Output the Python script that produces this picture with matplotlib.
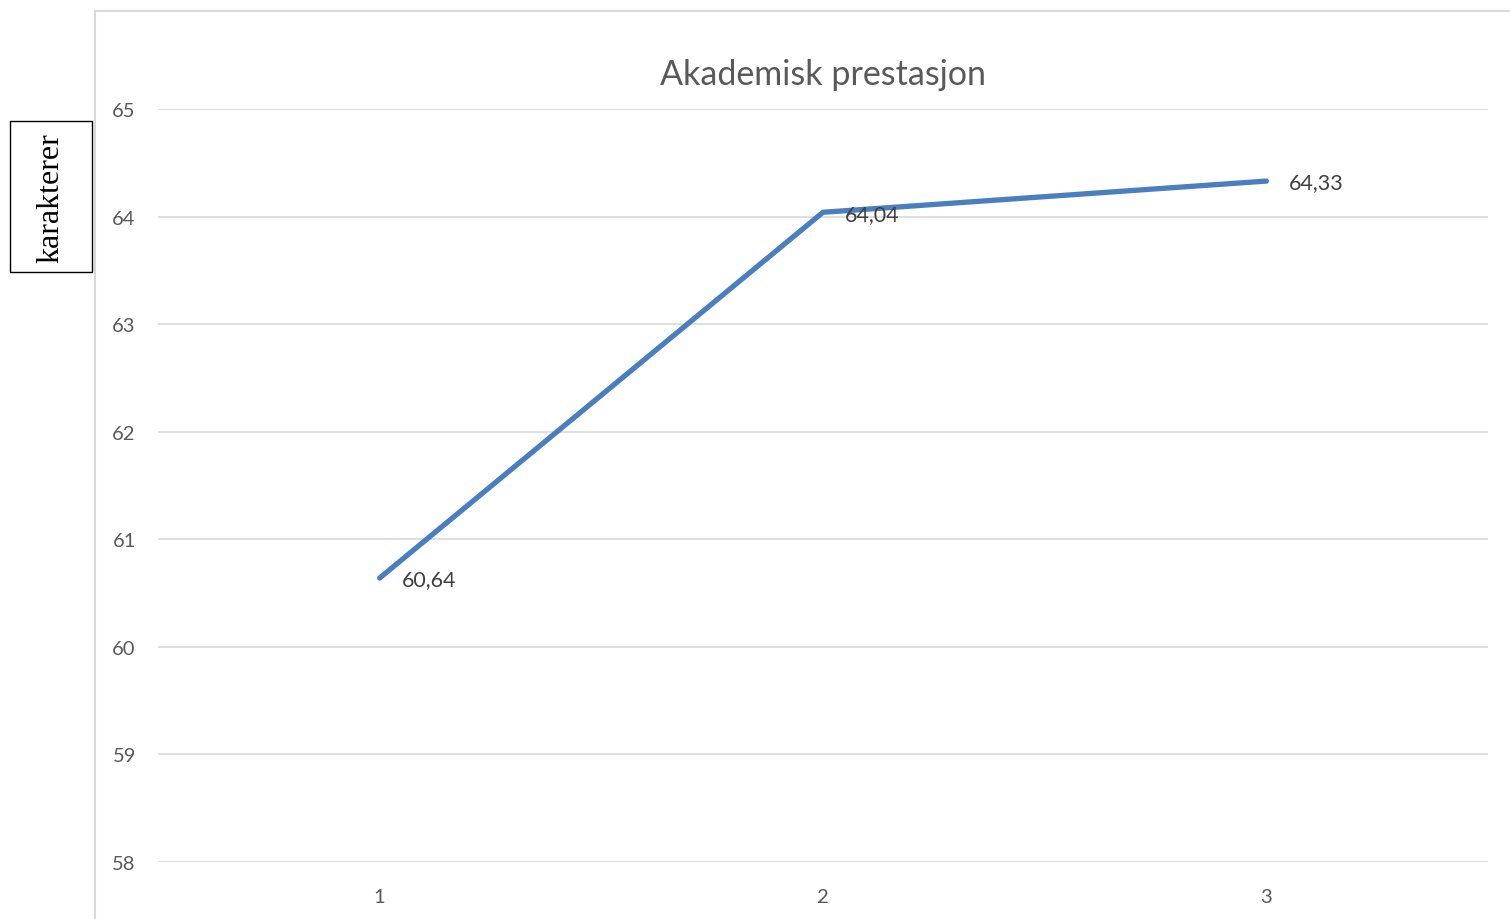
import matplotlib.pyplot as plt
from matplotlib.patches import Rectangle

# akademisk prestasjon per måling
maalinger = [1, 2, 3]
karakterer = [60.64, 64.04, 64.33]
etiketter = ["60,64", "64,04", "64,33"]

W, H = 1510, 920
fig = plt.figure(figsize=(W / 100, H / 100), dpi=100)

# lys ramme rundt diagramområdet
fig.add_artist(Rectangle((95 / W, -0.05), 1.2, (H - 12) / H + 0.05,
                         transform=fig.transFigure, fill=False,
                         edgecolor="#d9d9d9", linewidth=1.5))

ax = fig.add_axes([158 / W, (H - 863) / H, (1488 - 158) / W, (863 - 110) / H])
ax.plot(maalinger, karakterer, color="#4a7ebf", linewidth=3.8,
        solid_capstyle="round", solid_joinstyle="miter", zorder=3)
for x, y, t in zip(maalinger, karakterer, etiketter):
    ax.annotate(t, (x, y), xytext=(16, -1), textcoords="offset points",
                va="center", ha="left", fontsize=15.5, color="#404040",
                family="Lato", zorder=4)

ax.set_xlim(0.5, 3.5)
ax.set_ylim(58, 65)
ax.set_xticks(maalinger)
ax.set_yticks(range(58, 66))
ax.grid(axis="y", color="#d9d9d9", linewidth=1.2)
ax.set_axisbelow(True)
for s in ax.spines.values():
    s.set_visible(False)
ax.tick_params(length=0, labelsize=14.5, labelcolor="#595959")
ax.tick_params(axis="y", pad=16)
ax.tick_params(axis="x", pad=18.5)
for lab in ax.get_xticklabels() + ax.get_yticklabels():
    lab.set_family("Lato")

fig.text(823 / W, (H - 75) / H, "Akademisk prestasjon", ha="center",
         va="center", fontsize=24.5, color="#595959", family="Lato")

# aksetittel i egen boks
fig.add_artist(Rectangle((10 / W, (H - 273) / H), 82 / W, 151 / H,
                         transform=fig.transFigure, fill=False,
                         edgecolor="black", linewidth=1.0))
fig.text(51 / W, (H - 198) / H, "karakterer", rotation=90, ha="center",
         va="center", fontsize=23, family="Liberation Serif", color="black")

fig.savefig("out.png", dpi=100, facecolor="white")
